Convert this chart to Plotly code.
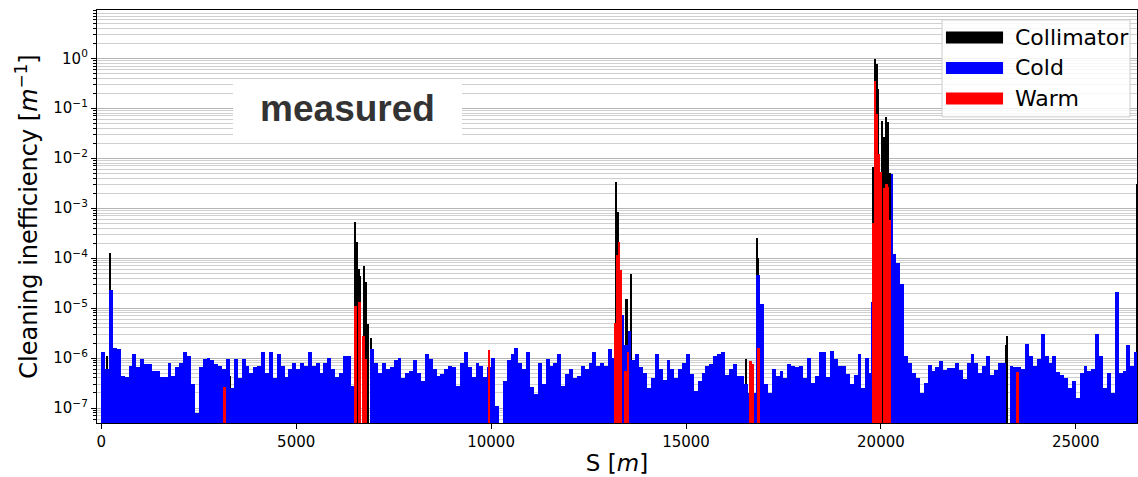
import plotly.graph_objects as go

# ---------------- data ----------------
# Cold losses, 100 m bins starting at s = 0 (value per bin, None = no loss)
cold_bin_width = 100
cold_values = [
    1.3e-6, 6e-7, 2.3e-5, 1.6e-6, 1.5e-6, 4.3e-7, 4.1e-7, 7e-7, 1.2e-6, 6.5e-7,      # 0-9
    9.5e-7, 7.5e-7, 7.5e-7, 5.5e-7, 5.5e-7, 4.1e-7, 4.1e-7, 8e-7, 4.3e-7, 6.5e-7,    # 10-19
    8e-7, 1.3e-6, 1.1e-6, 3e-7, 8e-8, 6.5e-7, 9.5e-7, 1e-6, 9e-7, 7.5e-7,            # 20-29
    7e-7, 6e-7, 9.5e-7, 2.5e-7, 9.5e-7, 3.9e-7, 9.5e-7, 7e-7, 5e-7, 6.5e-7,          # 30-39
    7e-7, 1.3e-6, 5.1e-7, 1.3e-6, 3.9e-7, 1.2e-6, 7e-7, 4.1e-7, 6e-7, 8e-7,          # 40-49
    6e-7, 8e-7, 7e-7, 1.3e-6, 7e-7, 8e-7, 5e-7, 8e-7, 1e-6, 6e-7,                    # 50-59
    4.1e-7, 5e-7, 1.1e-6, 1.1e-6, 2.8e-7, None, None, None, None, 1.5e-6,            # 60-69
    8e-7, 5e-7, 8e-7, 6e-7, 6.5e-7, 9e-7, 1e-6, 4e-7, 5e-7, 5.5e-7,                  # 70-79
    9e-7, 5e-7, 3.5e-7, 1.2e-6, 9.5e-7, 6e-7, 4.3e-7, 4.8e-7, 6e-7, 7e-7,            # 80-89
    6.5e-7, 2.8e-7, 8e-7, 1.3e-6, 6.5e-7, 4.1e-7, 8e-7, 7e-7, 4.1e-7, 6.5e-7,        # 90-99
    1e-6, 1.1e-7, None, 3.5e-7, 9e-7, 1.2e-6, 1.6e-6, 8e-7, 6e-7, 1.3e-6,            # 100-109
    2.6e-7, 1.9e-7, 8e-7, 3e-7, 9.5e-7, 7e-7, 8e-7, 1.2e-6, 2.8e-7, 4.7e-7,          # 110-119
    6e-7, 4e-7, 4.3e-7, 7e-7, 6e-7, 8e-7, 1.3e-6, 7e-7, 8e-7, 7e-7,                  # 120-129
    1.5e-6, 1e-6, None, 7.2e-6, 1.8e-6, 3.5e-6, 9e-7, 1.2e-6, 6.5e-7, 5e-7,          # 130-139
    2.5e-7, 4e-7, 1.2e-6, 6e-7, 3.7e-7, 9e-7, 6e-7, 3.9e-7, 6e-7, 8e-7,              # 140-149
    1.2e-6, 4.7e-7, 2.2e-7, 3.5e-7, 5e-7, 7e-7, 7.5e-7, 1.1e-6, 1.2e-6, 1.3e-6,      # 150-159
    4.5e-7, 6e-7, 7.5e-7, 4.3e-7, 4.3e-7, 3e-7, 2e-7, 2e-7, 4.5e-5, 1.2e-5,          # 160-169
    3e-7, 2e-7, 6e-7, 4.3e-7, 5.5e-7, 4e-7, 7.5e-7, 7e-7, 6.5e-7, 7e-7,              # 170-179
    4e-7, 1e-6, 3.2e-7, 4.3e-7, 1.3e-6, 1.3e-6, 4.1e-7, 1.4e-6, 9.5e-7, 7e-7,        # 180-189
    7e-7, 4.7e-7, 3e-7, 4.5e-7, 1.2e-6, 2.5e-7, 1e-6, 5e-7, None, None,              # 190-199
    None, None, None, 1.2e-4, 8e-5, 3e-5, 1.1e-6, 8e-7, 5.1e-7, 4e-7,                # 200-209
    2e-7, 3.1e-7, 7.4e-7, 5.5e-7, 6.5e-7, 8.8e-7, 5.8e-7, 6.2e-7, 6.2e-7, 8e-7,      # 210-219
    5.8e-7, 3.8e-7, 8e-7, 1.2e-6, 8e-7, 5.1e-7, 7e-7, 1.1e-6, 4.5e-7, 5.8e-7,        # 220-229
    8e-7, 8e-7, None, 7e-7, 6.5e-7, 6.5e-7, 6e-7, 1.9e-6, 1.1e-6, 7e-7,              # 230-239
    9.4e-7, 3e-6, 1.1e-6, 8e-7, 1.1e-6, 5.3e-7, 4.5e-7, 4e-7, 2.5e-7, 3.5e-7,        # 240-249
    1.6e-7, 5.1e-7, 7e-7, 5.5e-7, 6e-7, 3e-6, 1.1e-6, 2.5e-7, 5e-7, 2e-7,            # 250-259
    2.1e-5, 5e-7, 5.5e-7, 1.8e-6, 7e-7, 1.3e-6,                                      # 260-265
]
cold_s = [cold_bin_width * (i + 0.5) for i in range(len(cold_values))]

# narrow cold spikes next to the collimation insertion
cold_peak_s = [19785, 20287]
cold_peak_v = [1.3e-5, 4.9e-3]

# Collimator losses (position s [m], value)
coll_s = [141, 231, 3300, 3440,
          6520, 6565, 6610, 6650, 6750, 6800, 6860, 6935,
          13215, 13250, 13480, 13600,
          16546, 16820, 16850,
          19812, 19851, 19897, 19941, 20038, 20082, 20141, 20193, 20236,
          23130, 23215, 23240, 26580]
coll_v = [1.1e-6, 1.27e-4, 4.3e-7, 3.5e-7,
          5.3e-4, 2.1e-4, 6e-5, 4.4e-5, 6.9e-5, 3.4e-5, 4.9e-6, 2.5e-6,
          3.4e-3, 8.4e-4, 1.5e-5, 4.9e-5,
          9.5e-7, 2.5e-4, 1.0e-4,
          6.6e-3, 0.95, 0.76, 0.24, 0.056, 0.026, 0.067, 0.052, 5e-3,
          3.5e-7, 1.8e-6, 2.8e-6, 3e-3]

# Warm losses (position s [m], value, element length [m])
warm_s = [3160, 6530, 6630, 6730, 6800, 9955,
          13195, 13245, 13290, 13335, 13450, 13525,
          16666, 16720, 16870,
          19815, 19860, 19905, 19950, 19995, 20092, 20145, 20195, 20245,
          23500]
warm_v = [2.6e-7, 1.1e-5, 1.35e-5, 2.7e-6, 9.5e-7, 1.45e-6,
          5e-6, 1.15e-4, 2.1e-4, 5.9e-5, 5.5e-7, 1.3e-6,
          8.8e-7, 7.5e-7, 1.6e-6,
          5e-4, 0.35, 0.077, 0.012, 5.2e-3, 2.5e-3, 3e-3, 2.7e-3, 5.7e-4,
          5.3e-7]
warm_len = [70, 50, 50, 50, 50, 50,
            50, 50, 40, 50, 50, 50,
            50, 40, 50,
            40, 50, 40, 50, 50, 55, 50, 50, 50,
            80]

y_ticks = [1e-7, 1e-6, 1e-5, 1e-4, 1e-3, 1e-2, 1e-1, 1e0]
y_ticktext = ["10<sup>\u22127</sup>", "10<sup>\u22126</sup>", "10<sup>\u22125</sup>",
              "10<sup>\u22124</sup>", "10<sup>\u22123</sup>", "10<sup>\u22122</sup>",
              "10<sup>\u22121</sup>", "10<sup>0</sup>"]
x_ticks = [0, 5000, 10000, 15000, 20000, 25000]
x_ticktext = ["0", "5000", "10000", "15000", "20000", "25000"]

# ---------------- figure ----------------
fig = go.Figure()

fig.add_trace(go.Bar(x=coll_s, y=coll_v, width=[40] * len(coll_s),
                     marker=dict(color="#000000", line=dict(width=0)), name="Collimator"))
fig.add_trace(go.Bar(x=cold_s + cold_peak_s, y=cold_values + cold_peak_v,
                     width=[cold_bin_width] * len(cold_s) + [30] * len(cold_peak_s),
                     marker=dict(color="#0000ff", line=dict(width=0)), name="Cold"))
fig.add_trace(go.Bar(x=warm_s, y=warm_v, width=warm_len,
                     marker=dict(color="#ff0000", line=dict(width=0)), name="Warm"))

font_family = "DejaVu Sans"

fig.update_layout(
    width=1138, height=477,
    margin=dict(l=97, r=1, t=10, b=54),
    paper_bgcolor="white", plot_bgcolor="white",
    barmode="overlay", bargap=0, showlegend=False,
    font=dict(family=font_family, size=15, color="black"),
)

fig.update_xaxes(
    range=[-110, 26570], tickmode="array", tickvals=x_ticks, ticktext=x_ticktext,
    ticks="outside", ticklen=5, tickcolor="black", showgrid=False, zeroline=False,
    showline=True, linecolor="black", linewidth=1.3, mirror=True,
    tickfont=dict(size=15, family=font_family),
    title=dict(text="S [<i>m</i>]", font=dict(size=23, family=font_family), standoff=4),
)

fig.update_yaxes(
    type="log", range=[-7.30, 0.966], tickmode="array", tickvals=y_ticks, ticktext=y_ticktext,
    ticks="outside", ticklen=5, tickcolor="black",
    showgrid=True, gridcolor="#b4b4b4", gridwidth=1, zeroline=False,
    showline=True, linecolor="black", linewidth=1.3, mirror=True,
    minor=dict(dtick="D1", ticks="outside", ticklen=3, tickcolor="black",
               showgrid=True, gridcolor="#cfcfcf", gridwidth=1),
    tickfont=dict(size=15, family=font_family),
    title=dict(text="Cleaning inefficiency [<i>m</i><sup>\u22121</sup>]",
               font=dict(size=24, family=font_family), standoff=8),
)

# "measured" label
fig.add_annotation(
    xref="paper", yref="paper", x=0.2409, y=0.7613, xanchor="center", yanchor="middle",
    text="<b>measured</b>", showarrow=False, width=229, height=53,
    bgcolor="white", borderpad=0, borderwidth=0,
    font=dict(family="Liberation Sans", size=37, color="#333333"),
)

# legend (drawn by hand to match wide colour swatches)
fig.add_shape(type="rect", xref="paper", yref="paper", x0=0.8125, x1=0.9933, y0=0.7411, y1=0.9758,
              line=dict(color="#cccccc", width=1), fillcolor="rgba(255,255,255,0.85)", layer="above")
legend_items = [("Collimator", "#000000", 0.9480, 0.9190, 0.9335),
                ("Cold", "#0000ff", 0.8742, 0.8451, 0.8597),
                ("Warm", "#ff0000", 0.8004, 0.7714, 0.7859)]
for label, col, ytop, ybot, ymid in legend_items:
    fig.add_shape(type="rect", xref="paper", yref="paper", x0=0.8163, x1=0.8712, y0=ybot, y1=ytop,
                  line=dict(width=0), fillcolor=col, layer="above")
    fig.add_annotation(xref="paper", yref="paper", x=0.8808, y=ymid, xanchor="left", yanchor="middle",
                       text=label, showarrow=False, font=dict(family=font_family, size=22, color="black"))

fig.write_html("out.html")
